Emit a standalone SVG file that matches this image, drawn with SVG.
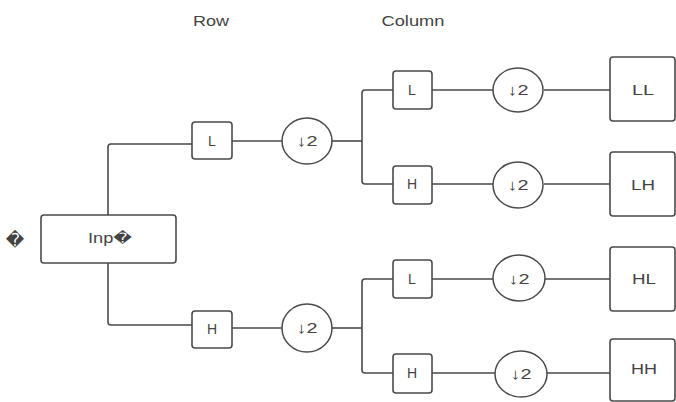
<svg xmlns="http://www.w3.org/2000/svg" width="676" height="402" viewBox="0 0 676 402">
<style>
.box{fill:#fff;stroke:#4a4a4a;stroke-width:1.6}
.ell{fill:#fff;stroke:#4a4a4a;stroke-width:1.5}
.ln{fill:none;stroke:#4a4a4a;stroke-width:1.6}
text{font-family:"Liberation Sans","DejaVu Sans",Arial,sans-serif;font-size:14px;fill:#444;text-anchor:middle}
.big{font-size:15px}
</style>
<rect width="676" height="402" fill="#fff"/>
<g id="labels">
<text x="211" y="26" textLength="36" lengthAdjust="spacingAndGlyphs">Row</text>
<text x="413" y="26" textLength="63" lengthAdjust="spacingAndGlyphs">Column</text>
</g>
<g id="connectors">
<path class="ln" d="M108,215 V147 Q108,144 111,144 H192"/>
<path class="ln" d="M108,263 V322 Q108,325 111,325 H192"/>
<path class="ln" d="M232,141 H282"/>
<path class="ln" d="M332,141 H362"/>
<path class="ln" d="M393,90 H365 Q362,90 362,93 V181 Q362,184 365,184 H393"/>
<path class="ln" d="M232,328 H282"/>
<path class="ln" d="M332,328 H362"/>
<path class="ln" d="M393,279 H365 Q362,279 362,282 V370 Q362,373 365,373 H393"/>
<path class="ln" d="M432,90 H493 M544,90 H610"/>
<path class="ln" d="M432,184 H493 M544,184 H610"/>
<path class="ln" d="M432,279 H493 M545,279 H610"/>
<path class="ln" d="M432,373 H495 M547,373 H610"/>
</g>
<g id="input">
<rect class="box" x="41" y="215" width="135" height="48" rx="3"/>
<text x="88" y="243" style="text-anchor:start" textLength="44" lengthAdjust="spacingAndGlyphs">Inp�</text>
</g>
<g id="missing-glyph">
<text x="15" y="246" style="font-size:18px">�</text>
</g>
<g id="row-L">
<rect class="box" x="192" y="122" width="40" height="37" rx="3"/>
<text x="212" y="146">L</text>
</g>
<g id="row-L-down">
<ellipse class="ell" cx="307" cy="141" rx="25" ry="23"/>
<text class="big" x="307" y="146" textLength="21" lengthAdjust="spacingAndGlyphs">↓2</text>
</g>
<g id="row-H">
<rect class="box" x="192" y="311" width="40" height="37" rx="3"/>
<text x="212" y="334">H</text>
</g>
<g id="row-H-down">
<ellipse class="ell" cx="307" cy="328" rx="25" ry="24"/>
<text class="big" x="307" y="333" textLength="21" lengthAdjust="spacingAndGlyphs">↓2</text>
</g>
<g id="col-LL">
<rect class="box" x="393" y="71" width="39" height="38" rx="3"/>
<text x="412" y="95">L</text>
</g>
<g id="col-LL-down">
<ellipse class="ell" cx="518" cy="90" rx="25" ry="22"/>
<text class="big" x="518" y="95" textLength="21" lengthAdjust="spacingAndGlyphs">↓2</text>
</g>
<g id="LL">
<rect class="box" x="610" y="57" width="65" height="64" rx="3"/>
<text x="643" y="95" textLength="22" lengthAdjust="spacingAndGlyphs">LL</text>
</g>
<g id="col-LH">
<rect class="box" x="393" y="166" width="39" height="38" rx="3"/>
<text x="412" y="189">H</text>
</g>
<g id="col-LH-down">
<ellipse class="ell" cx="518" cy="185" rx="25" ry="23"/>
<text class="big" x="518" y="190" textLength="21" lengthAdjust="spacingAndGlyphs">↓2</text>
</g>
<g id="LH">
<rect class="box" x="610" y="152" width="65" height="64" rx="3"/>
<text x="643" y="190" textLength="24" lengthAdjust="spacingAndGlyphs">LH</text>
</g>
<g id="col-HL">
<rect class="box" x="393" y="260" width="39" height="38" rx="3"/>
<text x="412" y="284">L</text>
</g>
<g id="col-HL-down">
<ellipse class="ell" cx="519" cy="278" rx="26" ry="23"/>
<text class="big" x="519" y="284" textLength="21" lengthAdjust="spacingAndGlyphs">↓2</text>
</g>
<g id="HL">
<rect class="box" x="610" y="247" width="65" height="64" rx="3"/>
<text x="644" y="284" textLength="24" lengthAdjust="spacingAndGlyphs">HL</text>
</g>
<g id="col-HH">
<rect class="box" x="393" y="354" width="39" height="39" rx="3"/>
<text x="412" y="378">H</text>
</g>
<g id="col-HH-down">
<ellipse class="ell" cx="521" cy="374" rx="26" ry="23"/>
<text class="big" x="521" y="379" textLength="21" lengthAdjust="spacingAndGlyphs">↓2</text>
</g>
<g id="HH">
<rect class="box" x="610" y="339" width="65" height="62" rx="3"/>
<text x="644" y="374" textLength="26" lengthAdjust="spacingAndGlyphs">HH</text>
</g>
</svg>
